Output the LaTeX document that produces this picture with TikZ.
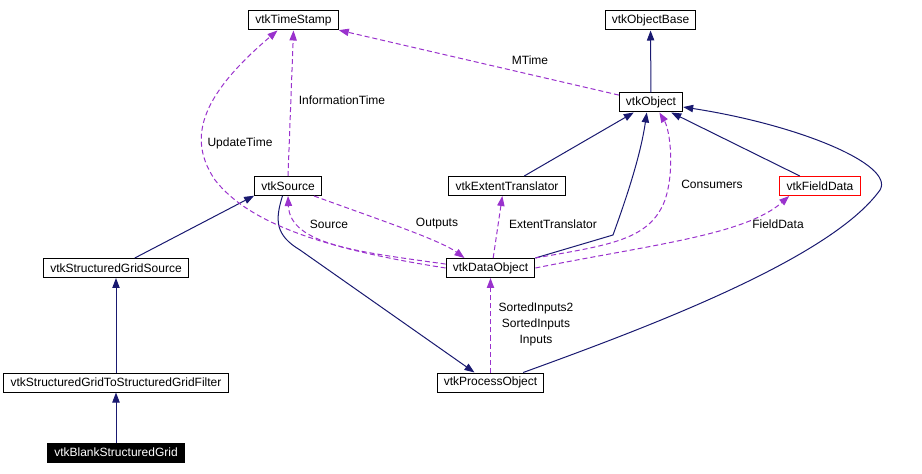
\documentclass[tikz,border=0pt]{standalone}
\usepackage{fontspec}
\setmainfont{Liberation Sans}
\usetikzlibrary{arrows.meta}
\definecolor{inheritBlue}{RGB}{25, 25, 112}
\definecolor{usagePurple}{RGB}{154, 50, 205}

\begin{document}
\begin{tikzpicture}[x=0.75pt, y=-0.75pt, font=\fontsize{9}{12}\selectfont,
    cls/.style={draw=black, line width=0.75pt, minimum height=14.25pt, inner xsep=5pt, inner ysep=0pt},
    inherit/.style={draw=inheritBlue, line width=0.75pt, -{Triangle[length=7.5pt, width=5.5pt]}},
    usage/.style={draw=usagePurple, line width=0.75pt, dash pattern=on 3.75pt off 2.25pt, -{Triangle[length=7.5pt, width=5.5pt]}},
    lbl/.style={inner sep=0pt, align=center}]
                \useasboundingbox (0,0) rectangle (922,474);

                % Class boxes
                \node[cls] (ts) at (293.5,20.5) {vtkTimeStamp};
                \node[cls] (objbase) at (650.5,20.5) {vtkObjectBase};
                \node[cls] (obj) at (651,102.5) {vtkObject};
                \node[cls] (src) at (288,186) {vtkSource};
                \node[cls] (ext) at (507,186) {vtkExtentTranslator};
                \node[cls, draw=red] (fd) at (820,186) {vtkFieldData};
                \node[cls] (sgs) at (116,268) {vtkStructuredGridSource};
                \node[cls] (dobj) at (490.5,268) {vtkDataObject};
                \node[cls] (filt) at (116,382.5) {vtkStructuredGridToStructuredGridFilter};
                \node[cls] (pobj) at (490.5,382.5) {vtkProcessObject};
                \node[cls, fill=black, text=white] (blank) at (116,452.5) {vtkBlankStructuredGrid};

                % Inheritance
                \draw[inherit] (obj) -- (objbase);
                \draw[inherit] (ext) -- (obj);
                \draw[inherit] (fd) -- (obj);
                \draw[inherit] (sgs.28) -- (src.196);
                \draw[inherit] (filt) -- (sgs);
                \draw[inherit] (blank) -- (filt);
                \draw[inherit] (dobj.north east) -- (613,235) .. controls (622,210) and (640,160) .. (obj.247);
                \draw[inherit] (pobj.17) .. controls (640,330) and (830,260) .. (880,190) .. controls (895,165) and (800,125) .. (obj.-8);
                \draw[inherit] (src.-119) .. controls (275,220) and (275,235) .. (300,250) -- (pobj.148);

                % Usage
                \draw[usage] (obj.167) -- (ts.-12);
                \draw[usage] (src.north) -- (ts.south);
                \draw[usage] (dobj.west) .. controls (330,250) and (250,225) .. (215,180) .. controls (188,140) and (198,98) .. (ts.212);
                \draw[usage] (dobj.175) .. controls (360,252) and (290,245) .. (src.south);
                \draw[usage] (src.-21) .. controls (380,220) and (440,240) .. (dobj.159);
                \draw[usage] (dobj.75) -- (ext.-115);
                \draw[usage] (dobj.north east) .. controls (610,245) and (650,240) .. (665,200) .. controls (675,170) and (670,130) .. (obj.-50);
                \draw[usage] (dobj.east) .. controls (650,245) and (745,235) .. (fd.198);
                \draw[usage] (pobj.north) -- (dobj.south);

                % Edge labels
                \node[lbl] (lMTime) at (530,60) {MTime};
                \node[lbl] (lInfo) at (342,100) {InformationTime};
                \node[lbl] (lUpdate) at (240,143) {UpdateTime};
                \node[lbl] (lSource) at (329,224) {Source};
                \node[lbl] (lOutputs) at (437,224) {Outputs};
                \node[lbl] (lExtent) at (553,224) {ExtentTranslator};
                \node[lbl] (lConsumers) at (712,184) {Consumers};
                \node[lbl] (lField) at (778,224) {FieldData};
                \node[lbl] (lInputs) at (536,324) {SortedInputs2\\SortedInputs\\Inputs};
            \end{tikzpicture}
\end{document}
